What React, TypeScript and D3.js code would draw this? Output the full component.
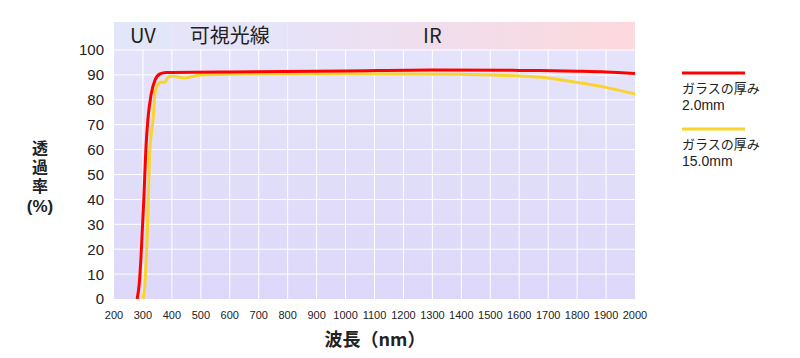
import React from 'react';
import * as d3 from 'd3';

// red: glass 2.0mm, yellow: glass 15.0mm
const redNm = [280, 287, 293, 303, 310, 317, 328, 342, 359, 380, 400, 600, 1000, 1300, 1600, 1800, 1900, 2000];
const redVal = [0, 6, 16, 40, 60, 72, 82, 88, 90.4, 91, 91, 91.2, 91.6, 92, 91.8, 91.5, 91.2, 90.6];
const yellowNm = [300, 306, 313, 324, 335, 342, 352, 359, 376, 386, 400, 445, 497, 600, 1000, 1400, 1550, 1700, 1800, 1900, 2000];
const yellowVal = [0, 5, 20, 60, 72, 83, 86, 87, 87, 89, 89.5, 88.8, 90, 90.3, 90.5, 90.3, 89.8, 88.8, 87, 85, 82.3];

const xTicks = d3.range(200, 2001, 100);
const yTicks = d3.range(0, 101, 10);
const legendLabels = ['ガラスの厚み', 'ガラスの厚み'];
const legendSub = ['2.0mm', '15.0mm'];
const legendColors = ['#ff0000', '#f9d42c'];

const W = 800, H = 358;
const left = 114, right = 635, top = 50, bottom = 299;

export default function App() {
  const x = d3.scaleLinear().domain([200, 2000]).range([left, right]);
  const y = d3.scaleLinear().domain([0, 100]).range([bottom, top]);

  const line = d3.line<[number, number]>()
    .x(d => x(d[0]))
    .y(d => y(d[1]))
    .curve(d3.curveMonotoneX);

  const redPts = redNm.map((n, i) => [n, redVal[i]] as [number, number]);
  const yellowPts = yellowNm.map((n, i) => [n, yellowVal[i]] as [number, number]);

  const cjk = '"Noto Sans CJK JP", "Noto Sans", sans-serif';
  const lat = '"Liberation Sans", sans-serif';
  const bandTop = 22;

  return (
    <svg width={W} height={H} style={{ position: 'absolute', left: 0, top: 0 }}>
      <defs>
        <linearGradient id="irGrad" x1="0" x2="1" y1="0" y2="0">
          <stop offset="0%" stopColor="#e6e2f8" />
          <stop offset="100%" stopColor="#fdd8dc" />
        </linearGradient>
        <linearGradient id="plotGrad" x1="0" x2="0" y1="0" y2="1">
          <stop offset="0%" stopColor="#e5e3fa" />
          <stop offset="100%" stopColor="#ddd8f9" />
        </linearGradient>
      </defs>
      <rect width={W} height={H} fill="#fff" />

      {/* wavelength bands */}
      <rect x={x(200)} y={bandTop} width={x(400) - x(200)} height={top - bandTop} fill="#e1e7f8" />
      <rect x={x(400)} y={bandTop} width={x(800) - x(400)} height={top - bandTop} fill="#e6e4f9" />
      <rect x={x(800)} y={bandTop} width={x(2000) - x(800)} height={top - bandTop} fill="url(#irGrad)" />
      <text x={(x(200) + x(400)) / 2} y={(bandTop + top) / 2} dy="0.36em" textAnchor="middle"
        fontFamily={cjk} fontSize={20} fill="#222">UV</text>
      <text x={(x(400) + x(800)) / 2} y={(bandTop + top) / 2} dy="0.36em" textAnchor="middle"
        fontFamily={cjk} fontSize={20} fill="#222">可視光線</text>
      <text x={x(1300)} y={(bandTop + top) / 2} dy="0.36em" textAnchor="middle"
        fontFamily={cjk} fontSize={20} fill="#222">IR</text>

      {/* plot area */}
      <rect x={left} y={top} width={right - left} height={bottom - top} fill="url(#plotGrad)" />
      {yTicks.filter(t => t > 0).map(t => (
        <line key={'h' + t} x1={left} x2={right} y1={y(t)} y2={y(t)} stroke="#fff" strokeWidth={1} />
      ))}
      {xTicks.filter(t => t > 200 && t < 2000).map(t => (
        <line key={'v' + t} x1={x(t)} x2={x(t)} y1={top} y2={bottom} stroke="#fff" strokeWidth={1} />
      ))}

      <path d={line(yellowPts) || ''} fill="none" stroke={legendColors[1]} strokeWidth={3} strokeLinejoin="round" />
      <path d={line(redPts) || ''} fill="none" stroke={legendColors[0]} strokeWidth={3} strokeLinejoin="round" />

      {/* axes labels */}
      {yTicks.map(t => (
        <text key={'yl' + t} x={104} y={y(t)} dy="0.36em" textAnchor="end"
          fontFamily={lat} fontSize={15} fill="#222">{t}</text>
      ))}
      {xTicks.map(t => (
        <text key={'xl' + t} x={x(t)} y={315} dy="0.36em" textAnchor="middle"
          fontFamily={lat} fontSize={11} fill="#222">{t}</text>
      ))}
      <text x={375} y={340} dy="0.36em" textAnchor="middle" fontFamily={cjk} fontSize={18}
        fontWeight="bold" fill="#222">波長（nm）</text>
      {/* y title: vertical kanji, then (%) */}
      <text x={40} y={140} fontFamily={cjk} fontSize={16} fontWeight="bold" fill="#222"
        style={{ writingMode: 'vertical-rl', letterSpacing: '3px' }}>透過率</text>
      <text x={40} y={206} dy="0.36em" textAnchor="middle" fontFamily={lat} fontSize={17}
        fontWeight="bold" fill="#222">(%)</text>

      {/* legend */}
      {legendLabels.map((lab, i) => (
        <g key={'lg' + i} transform={`translate(682, ${73 + i * 56})`}>
          <line x1={0} x2={63} y1={0} y2={0} stroke={legendColors[i]} strokeWidth={3} />
          <text x={0} y={15} dy="0.36em" fontFamily={cjk} fontSize={13} fill="#222">{lab}</text>
          <text x={0} y={32} dy="0.36em" fontFamily={lat} fontSize={14} fill="#222">{legendSub[i]}</text>
        </g>
      ))}
    </svg>
  );
}
